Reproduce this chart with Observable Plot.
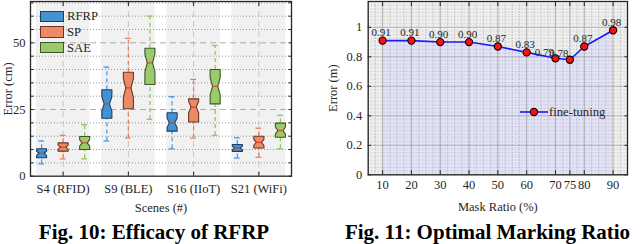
<!DOCTYPE html>
<html><head><meta charset="utf-8">
<script src="https://cdn.jsdelivr.net/npm/d3@7"></script>
<script src="https://cdn.jsdelivr.net/npm/@observablehq/plot@0.6"></script>
<style>
body{margin:0;background:#fff;}
#wrap{position:relative;width:640px;height:244px;overflow:hidden;font-family:"Liberation Serif","Times New Roman",Times,"DejaVu Serif",serif;color:#262626;background:#fff}
#left,#right{position:absolute;top:0}
#left{left:0}
#right{left:320px}
.cap{position:absolute;top:222px;font-weight:bold;font-size:21px;line-height:21px;color:#000;white-space:nowrap;text-align:center}
.leg{position:absolute;font-size:12.7px;line-height:16px;color:#262626}
.legrow{display:flex;align-items:center;height:15.7px}
.sw{width:22px;height:9.5px;border:1px solid #333;margin-right:3px}
</style>
</head><body>
<div id="wrap">
  <div id="left"></div>
  <div id="right"></div>
  <div id="legL" class="leg" style="left:40px;top:8.5px"></div>
  <div id="legR" class="leg" style="left:520px;top:104.5px"></div>
  <div class="cap" style="left:0;width:308px">Fig. 10: Efficacy of RFRP</div>
  <div class="cap" style="left:335px;width:305px">Fig. 11: Optimal Marking Ratio</div>
</div>
<script>
// ---------- Fig. 10 data (cm), order: S4, S9, S16, S21 ----------
const scenes = ["S4 (RFID)", "S9 (BLE)", "S16 (IIoT)", "S21 (WiFi)"];
const methods = ["RFRP", "SP", "SAE"];
const rfrpLow    = [4.6, 13.2, 10.3, 6.8];
const rfrpQ1     = [6.9, 21.7, 16.9, 9.3];
const rfrpMedian = [8.6, 27.1, 20.0, 10.6];
const rfrpQ3     = [10.3, 32.4, 23.8, 11.9];
const rfrpHigh   = [13.2, 40.9, 29.8, 14.4];
const spLow      = [6.5, 14.3, 14.3, 7.1];
const spQ1       = [9.4, 25.3, 20.3, 10.6];
const spMedian   = [10.9, 33.1, 25.9, 12.7];
const spQ3       = [12.5, 39.0, 29.0, 15.0];
const spHigh     = [15.3, 51.7, 36.3, 18.0];
const saeLow     = [6.5, 21.3, 15.3, 10.3];
const saeQ1      = [10.0, 34.4, 27.1, 14.6];
const saeMedian  = [12.5, 42.5, 33.7, 17.1];
const saeQ3      = [14.9, 48.0, 40.0, 19.9];
const saeHigh    = [19.3, 60.0, 49.0, 22.8];
const errorTicksCm = [0, 25, 50];

// ---------- Fig. 11 data ----------
const maskRatio = [10, 20, 30, 40, 50, 60, 70, 75, 80, 90];
const fineTuningError = [0.91, 0.91, 0.90, 0.90, 0.87, 0.83, 0.79, 0.78, 0.87, 0.98];
const errorTicksM = [0, 0.2, 0.4, 0.6, 0.8, 1];

// ---------- styling ----------
const serif = '"Liberation Serif", "Times New Roman", Times, "DejaVu Serif", serif';
const fills = ["#4393d3", "#ec8a66", "#9cc96b"];
const edges = ["#1d3f63", "#6e3420", "#3d5826"];
const whiskerColors = ["#4c9be0", "#e8825c", "#93c75c"];
const offsets = [-0.33, 0, 0.33];
const boxW = 0.077, notchW = 0.04, capW = 0.044;

const stats = [
  [rfrpLow, rfrpQ1, rfrpMedian, rfrpQ3, rfrpHigh],
  [spLow, spQ1, spMedian, spQ3, spHigh],
  [saeLow, saeQ1, saeMedian, saeQ3, saeHigh]
];
const boxes = [];
stats.forEach((s, k) => scenes.forEach((sc, i) => {
  boxes.push({k, method: methods[k], scene: sc, x: i + offsets[k],
    lo: s[0][i], q1: s[1][i], med: s[2][i], q3: s[3][i], hi: s[4][i]});
}));
function outline(b) {
  const n = 0.25 * (b.q3 - b.q1);
  const pts = [
    [b.x - boxW, b.q1], [b.x - boxW, b.med - n], [b.x - notchW, b.med], [b.x - boxW, b.med + n],
    [b.x - boxW, b.q3], [b.x + boxW, b.q3], [b.x + boxW, b.med + n], [b.x + notchW, b.med],
    [b.x + boxW, b.med - n], [b.x + boxW, b.q1], [b.x - boxW, b.q1]
  ];
  return pts.map(([x, y]) => ({id: b.method + b.scene, x, y}));
}
const sceneIdx = scenes.map((s, i) => i);
const minorCm = d3.range(5, 66, 5).filter(v => v % 25 !== 0);

const font = {fontFamily: serif, fontSize: "12.5px", color: "#262626", background: "transparent", overflow: "visible"};

const left = Plot.plot({
  width: 320, height: 212,
  marginLeft: 30, marginRight: 29, marginTop: 1, marginBottom: 36.3,
  x: {domain: [-0.5, 3.5]},
  y: {domain: [0, 65.5]},
  style: font,
  marks: [
    Plot.rect(sceneIdx, {x1: i => i - 0.41, x2: i => i + 0.41, fill: "#f1f1f1"}),
    Plot.gridY(minorCm, {stroke: "#777", strokeDasharray: "1,2", strokeOpacity: 0.75}),
    Plot.gridY(errorTicksCm.filter(v => v > 0), {stroke: "#999", strokeDasharray: "6,4", strokeOpacity: 0.8}),
    Plot.gridX(sceneIdx, {stroke: "#aaa", strokeDasharray: "6,4", strokeOpacity: 0.6}),
    ...methods.map((m, k) => Plot.ruleX(boxes.filter(b => b.k === k), {x: "x", y1: "q3", y2: "hi", stroke: whiskerColors[k], strokeWidth: 1.3, strokeDasharray: "4,3"})),
    ...methods.map((m, k) => Plot.ruleX(boxes.filter(b => b.k === k), {x: "x", y1: "lo", y2: "q1", stroke: whiskerColors[k], strokeWidth: 1.3, strokeDasharray: "4,3"})),
    ...methods.map((m, k) => Plot.ruleY(boxes.filter(b => b.k === k), {x1: b => b.x - capW, x2: b => b.x + capW, y: "hi", stroke: whiskerColors[k], strokeWidth: 1.3})),
    ...methods.map((m, k) => Plot.ruleY(boxes.filter(b => b.k === k), {x1: b => b.x - capW, x2: b => b.x + capW, y: "lo", stroke: whiskerColors[k], strokeWidth: 1.3})),
    ...methods.map((m, k) => Plot.line(boxes.filter(b => b.k === k).flatMap(outline), {x: "x", y: "y", z: "id", fill: fills[k], stroke: edges[k], strokeWidth: 1.1, curve: "linear"})),
    Plot.ruleY(boxes, {x1: b => b.x - notchW, x2: b => b.x + notchW, y: "med", stroke: "#e0301e", strokeWidth: 1}),
    Plot.frame({stroke: "#262626", strokeWidth: 1.3}),
    Plot.axisY(d3.range(0, 66, 5), {anchor: "left", tickSize: -3.5, fill: "none", label: null}),
    Plot.axisY(d3.range(0, 66, 5), {anchor: "right", tickSize: -3.5, fill: "none", label: null}),
    Plot.axisX(sceneIdx, {anchor: "bottom", tickSize: -4, fill: "none", label: null}),
    Plot.axisX(sceneIdx, {anchor: "top", tickSize: -4, fill: "none", label: null}),
    Plot.axisY(errorTicksCm, {anchor: "left", tickSize: 0, tickPadding: 5, label: "Error (cm)", labelAnchor: "center", labelArrow: false, labelOffset: 27}),
    Plot.axisX(sceneIdx, {anchor: "bottom", tickSize: 0, tickPadding: 8, tickFormat: i => scenes[i], label: "Scenes (#)", labelAnchor: "center", labelArrow: false, labelOffset: 36})
  ]
});
document.getElementById("left").append(left);

const rows = maskRatio.map((x, i) => ({x, y: fineTuningError[i]}));
// a label whose right neighbour is very close is right-aligned so the two don't collide
const crowded = (d, i) => i + 1 < rows.length && rows[i + 1].x - d.x < 10;
const right = Plot.plot({
  width: 320, height: 212,
  marginLeft: 47.7, marginRight: 13, marginTop: 1, marginBottom: 37.7,
  x: {domain: [5, 95]},
  y: {domain: [0, 1.175]},
  style: font,
  marks: [
    Plot.frame({fill: "#eeeeee", stroke: null}),
    Plot.areaY(rows, {x: "x", y: "y", fill: "#e2e2f6"}),
    Plot.gridX(d3.range(5, 95.01, 2.5), {stroke: "#8a8a8a", strokeDasharray: "1,1.6", strokeOpacity: 0.55}),
    Plot.gridY(d3.range(0, 1.176, 0.025), {stroke: "#8a8a8a", strokeDasharray: "1,2.2", strokeOpacity: 0.45}),
    Plot.gridX(maskRatio, {stroke: "#9a9a9a", strokeOpacity: 0.6}),
    Plot.gridY(errorTicksM, {stroke: "#9a9a9a", strokeOpacity: 0.6}),
    Plot.line(rows, {x: "x", y: "y", stroke: "#1a1aff", strokeWidth: 1.6}),
    Plot.dot(rows, {x: "x", y: "y", r: 3.6, fill: "#ff1010", stroke: "#000", strokeWidth: 1.1}),
    Plot.text(rows.filter((d, i) => !crowded(d, i)), {x: "x", y: "y", text: d => d.y.toFixed(2), dx: -1.5, dy: -8, fontSize: 11, fill: "#262626"}),
    Plot.text(rows.filter(crowded), {x: "x", y: "y", text: d => d.y.toFixed(2), textAnchor: "end", dx: -1.5, dy: -6, fontSize: 11, fill: "#262626"}),
    Plot.frame({stroke: "#262626", strokeWidth: 1.3}),
    Plot.axisY(errorTicksM, {anchor: "left", tickSize: -3.5, fill: "none", label: null}),
    Plot.axisY(errorTicksM, {anchor: "right", tickSize: -3.5, fill: "none", label: null}),
    Plot.axisX(maskRatio, {anchor: "bottom", tickSize: -4, fill: "none", label: null}),
    Plot.axisX(maskRatio, {anchor: "top", tickSize: -4, fill: "none", label: null}),
    Plot.axisY(errorTicksM, {anchor: "left", tickSize: 0, tickPadding: 6, tickFormat: d => String(Math.round(d * 10) / 10), label: "Error (m)", labelAnchor: "center", labelArrow: false, labelOffset: 40}),
    Plot.axisX(maskRatio, {anchor: "bottom", tickSize: 0, tickPadding: 5.5, tickFormat: d => String(d), label: "Mask Ratio (%)", labelAnchor: "center", labelArrow: false, labelOffset: 36.4})
  ]
});
document.getElementById("right").append(right);

// legends
const legL = document.getElementById("legL");
methods.forEach((m, k) => {
  const r = document.createElement("div");
  r.className = "legrow";
  const sw = document.createElement("div");
  sw.className = "sw";
  sw.style.background = fills[k];
  sw.style.borderColor = edges[k];
  const t = document.createElement("span");
  t.textContent = m;
  r.append(sw, t);
  legL.append(r);
});
document.getElementById("legR").innerHTML =
  '<div class="legrow"><svg width="28" height="10" style="margin-right:1px"><line x1="0" x2="28" y1="5" y2="5" stroke="#1a1aff" stroke-width="1.6"/><circle cx="14" cy="5" r="3.6" fill="#ff1010" stroke="#000" stroke-width="1.1"/></svg><span>fine-tuning</span></div>';
</script>
</body></html>
